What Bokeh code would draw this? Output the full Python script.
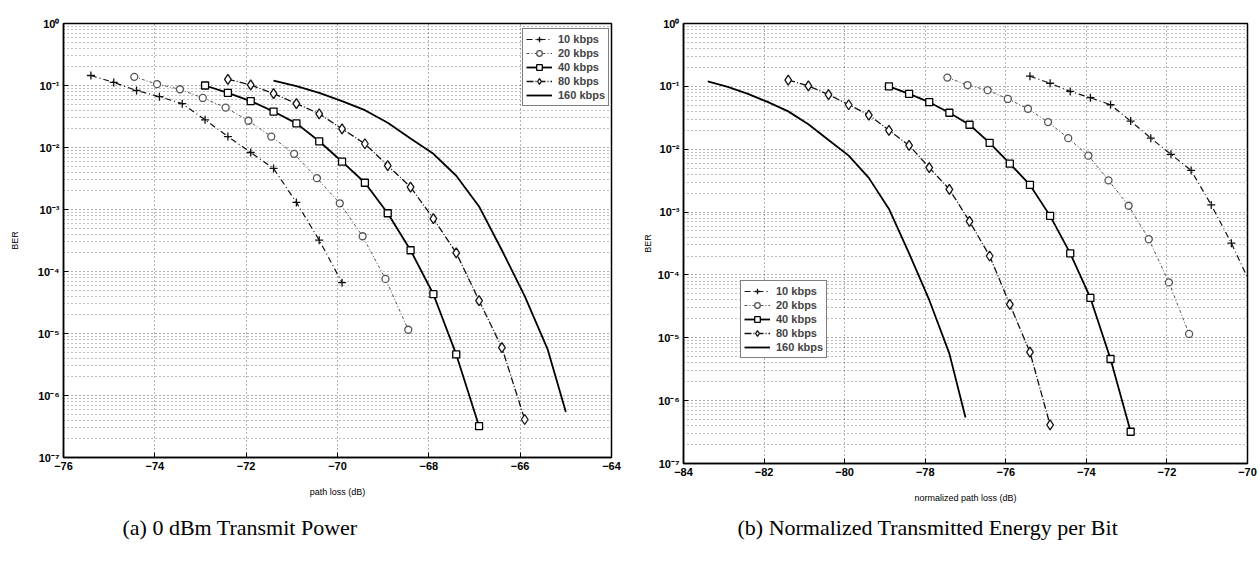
import math
from bokeh.plotting import figure
from bokeh.models import (Range1d, FixedTicker, Legend, LegendItem,
                          Title, CustomJSTickFormatter)
from bokeh.layouts import row
from bokeh.embed import file_html
from bokeh.resources import INLINE

# ---------------- data ----------------
labels = ["10 kbps", "20 kbps", "40 kbps", "80 kbps", "160 kbps"]

# (a) path loss (dB)
pl_10 = [-75.4, -74.9, -74.4, -73.9, -73.4, -72.9, -72.4, -71.9, -71.4, -70.9, -70.4, -69.9]
pl_20 = [-74.45, -73.95, -73.45, -72.95, -72.45, -71.95, -71.45, -70.95, -70.45, -69.95, -69.45, -68.95, -68.45]
pl_40 = [-72.9, -72.4, -71.9, -71.4, -70.9, -70.4, -69.9, -69.4, -68.9, -68.4, -67.9, -67.4, -66.9]
pl_80 = [-72.4, -71.9, -71.4, -70.9, -70.4, -69.9, -69.4, -68.9, -68.4, -67.9, -67.4, -66.9, -66.4, -65.9]
pl_160 = [-71.4, -70.9, -70.4, -69.9, -69.4, -68.9, -68.4, -67.9, -67.4, -66.9, -66.4, -65.9, -65.4, -65.0]

# (b) normalized path loss (dB)
npl_10 = [-75.4, -74.9, -74.4, -73.9, -73.4, -72.9, -72.4, -71.9, -71.4, -70.9, -70.4, -69.9]
npl_20 = [-77.45, -76.95, -76.45, -75.95, -75.45, -74.95, -74.45, -73.95, -73.45, -72.95, -72.45, -71.95, -71.45]
npl_40 = [-78.9, -78.4, -77.9, -77.4, -76.9, -76.4, -75.9, -75.4, -74.9, -74.4, -73.9, -73.4, -72.9]
npl_80 = [-81.4, -80.9, -80.4, -79.9, -79.4, -78.9, -78.4, -77.9, -77.4, -76.9, -76.4, -75.9, -75.4, -74.9]
npl_160 = [-83.4, -82.9, -82.4, -81.9, -81.4, -80.9, -80.4, -79.9, -79.4, -78.9, -78.4, -77.9, -77.4, -77.0]

ber_10 = [0.145, 0.112, 0.083, 0.066, 0.051, 0.028, 0.015, 0.0083, 0.0046, 0.0013, 0.00032, 0.000066]
ber_20 = [0.138, 0.105, 0.087, 0.063, 0.044, 0.027, 0.015, 0.0079, 0.0032, 0.00126, 0.00037, 0.000076, 0.0000115]
ber_40 = [0.1, 0.076, 0.056, 0.038, 0.0245, 0.0126, 0.0059, 0.0027, 0.00087, 0.00022, 0.000043, 0.0000046, 0.00000032]
ber_80 = [0.126, 0.102, 0.074, 0.051, 0.035, 0.020, 0.0115, 0.0051, 0.0023, 0.00071, 0.0002, 0.000034, 0.0000059, 0.00000041]
ber_160 = [0.12, 0.098, 0.076, 0.056, 0.040, 0.025, 0.014, 0.0079, 0.0035, 0.00112, 0.00022, 0.00004, 0.0000056, 0.00000054]

xticks_a = [-76, -74, -72, -70, -68, -66, -64]
xticks_b = [-84, -82, -80, -78, -76, -74, -72, -70]

FONT = "Liberation Sans"

sup_js = """
const e = Math.round(Math.log10(tick));
const sup = {"-": "⁻", "0": "⁰", "1": "¹", "2": "²", "3": "³", "4": "⁴",
             "5": "⁵", "6": "⁶", "7": "⁷", "8": "⁸", "9": "⁹"};
return "10" + String(e).split("").map(c => sup[c]).join("");
"""

decades = [10.0 ** e for e in range(-7, 1)]
minors = [m * 10.0 ** e for e in range(-7, 0) for m in range(2, 10)]


def style_axis(ax, label_size="11px"):
    ax.major_label_text_font = FONT
    ax.major_label_text_font_style = "bold"
    ax.major_label_text_font_size = label_size
    ax.major_label_text_color = "black"
    ax.major_tick_in = 5
    ax.major_tick_out = 0
    ax.minor_tick_in = 0
    ax.minor_tick_out = 0
    ax.axis_line_color = "black"
    ax.axis_line_width = 1.5
    ax.major_tick_line_color = "black"


def make_fig(xr, xticks, fw, fh, bl, bt, br, bb, xlabel, ylab_std):
    p = figure(x_range=Range1d(*xr), y_range=Range1d(1e-7, 1), y_axis_type="log",
               frame_width=fw, frame_height=fh,
               min_border_left=bl, min_border_top=bt, min_border_right=br, min_border_bottom=bb,
               output_backend="svg", toolbar_location=None,
               background_fill_color="white", border_fill_color="white")
    p.outline_line_color = "black"
    p.outline_line_width = 1.5

    p.xaxis.ticker = FixedTicker(ticks=xticks)
    p.yaxis.ticker = FixedTicker(ticks=decades, minor_ticks=minors)
    p.yaxis.formatter = CustomJSTickFormatter(code=sup_js)
    style_axis(p.xaxis[0])
    style_axis(p.yaxis[0])
    p.xaxis.major_label_standoff = 4
    p.yaxis.major_label_standoff = 4

    p.xaxis.axis_label = xlabel
    p.xaxis.axis_label_text_font = FONT
    p.xaxis.axis_label_text_font_style = "normal"
    p.xaxis.axis_label_text_font_size = "9px"
    p.xaxis.axis_label_text_color = "black"
    p.xaxis.axis_label_standoff = 14
    p.yaxis.axis_label = "BER"
    p.yaxis.axis_label_text_font = FONT
    p.yaxis.axis_label_text_font_style = "normal"
    p.yaxis.axis_label_text_font_size = "9px"
    p.yaxis.axis_label_text_color = "black"
    p.yaxis.axis_label_standoff = ylab_std

    p.xgrid.grid_line_color = "black"
    p.xgrid.grid_line_dash = "1 3"
    p.xgrid.grid_line_alpha = 0.6
    p.ygrid.grid_line_color = "black"
    p.ygrid.grid_line_dash = "1 3"
    p.ygrid.grid_line_alpha = 0.65
    p.ygrid.minor_grid_line_color = "black"
    p.ygrid.minor_grid_line_dash = "1 3"
    p.ygrid.minor_grid_line_alpha = 0.5
    return p


def add_caption(p, caption, offset, standoff):
    cap = Title(text=caption, align="left", offset=offset, standoff=standoff,
                text_font="Liberation Serif", text_font_size="22px",
                text_font_style="normal", text_color="black")
    p.add_layout(cap, "below")


def add_series(p, xs_list, legend_loc):
    styles = [
        dict(dash="6 3 1 3", color="#111111", width=1.2, marker="cross", size=8),
        dict(dash="3 2 1 2", color="#555555", width=1.0, marker="circle", size=7),
        dict(dash="solid", color="black", width=1.8, marker="square", size=7),
        dict(dash="7 2 1 2", color="#111111", width=1.3, marker="diamond", size=10),
        dict(dash="solid", color="black", width=1.8, marker=None, size=0),
    ]
    bers = [ber_10, ber_20, ber_40, ber_80, ber_160]
    items = []
    for lab, xs, ys, st in zip(labels, xs_list, bers, styles):
        rl = p.line(xs, ys, line_color=st["color"], line_width=st["width"], line_dash=st["dash"])
        rends = [rl]
        if st["marker"]:
            rs = p.scatter(xs, ys, marker=st["marker"], size=st["size"], fill_color="white",
                           line_color=st["color"], line_width=1.3)
            rends.append(rs)
        items.append(LegendItem(label=lab, renderers=rends))
    leg = Legend(items=items, location=legend_loc, label_text_font=FONT,
                 label_text_font_style="bold", label_text_font_size="11px",
                 label_height=14, glyph_height=14, glyph_width=26, spacing=0,
                 padding=3, margin=0, label_standoff=6,
                 border_line_color="black", border_line_width=1.5,
                 background_fill_color="white", background_fill_alpha=1)
    p.add_layout(leg)


pa = make_fig((-76, -64), xticks_a, 548, 434, 63, 18, 19, 110, "path loss (dB)", 15)
add_series(pa, [pl_10, pl_20, pl_40, pl_80, pl_160], (459, 351))
add_caption(pa, "(a) 0 dBm Transmit Power", 59, 27)

pb = make_fig((-84, -70), xticks_b, 564, 440, 53, 23, 12, 99, "normalized path loss (dB)", 2)
add_series(pb, [npl_10, npl_20, npl_40, npl_80, npl_160], (57, 105))
add_caption(pb, "(b) Normalized Transmitted Energy per Bit", 54, 15)

layout = row(pa, pb, spacing=0)
open("out.html", "w").write(file_html(layout, INLINE))
